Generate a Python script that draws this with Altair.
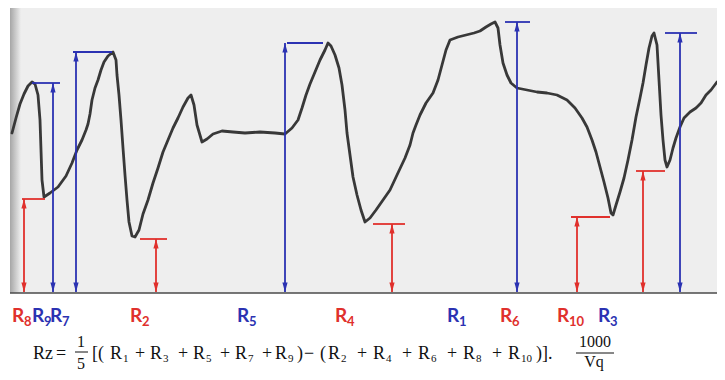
import altair as alt
import pandas as pd

# ---- profile trace (x, y in picture pixels, y downward) ----
profile_x = [12, 16, 20, 24, 28, 32, 35, 38, 40, 41, 42, 44, 50, 58, 66, 72, 77, 82, 86, 88,
             90, 92, 95, 98, 101, 104, 108, 113, 116, 117, 119, 121, 123, 125, 127, 129, 132, 135, 139, 143,
             148, 153, 158, 163, 168, 173, 178, 183, 188, 191, 194, 197, 202, 207, 213, 222, 233, 245, 260, 275,
             285, 292, 298, 302, 306, 310, 315, 320, 325, 328, 331, 335, 339, 342, 345, 347, 350, 353, 357, 361,
             365, 370, 376, 383, 390, 397, 405, 410, 413, 416, 420, 426, 433, 438, 442, 446, 450, 458, 466, 474,
             480, 486, 491, 495, 498, 500, 503, 507, 511, 517, 527, 537, 547, 557, 567, 575, 582, 587, 592, 596,
             600, 604, 608, 611, 613, 616, 620, 624, 628, 632, 636, 640, 643, 646, 649, 652, 654, 657, 659, 661,
             663, 665, 667, 670, 673, 676, 680, 684, 690, 696, 701, 706, 711, 717]
profile_y = [133, 118, 104, 94, 86, 82, 84, 95, 120, 150, 180, 197, 193, 187, 176, 163, 150, 140, 130, 124,
             114, 100, 88, 80, 70, 62, 56, 52, 60, 75, 95, 120, 148, 175, 200, 222, 236, 237, 230, 214,
             200, 183, 168, 152, 140, 128, 118, 107, 98, 95, 105, 125, 142, 139, 134, 131, 132, 133, 132, 133,
             134, 128, 120, 108, 95, 84, 72, 60, 50, 43, 46, 55, 68, 85, 110, 133, 155, 177, 195, 210,
             222, 218, 210, 200, 190, 175, 158, 145, 133, 125, 115, 103, 93, 80, 65, 50, 40, 37, 35, 33,
             31, 27, 24, 22, 28, 45, 63, 75, 83, 88, 90, 92, 93, 95, 100, 108, 118, 127, 140, 152,
             167, 182, 198, 213, 215, 205, 192, 178, 160, 140, 117, 98, 83, 65, 48, 36, 33, 45, 80, 115,
             140, 160, 167, 160, 148, 138, 127, 118, 112, 108, 103, 95, 90, 82]

# ---- arrows ----
arrow_x = [24, 53, 76, 156, 285, 392, 517, 577, 643, 680]
arrow_top = [199, 83, 52, 239, 43, 224, 22, 217, 171, 33]
cap_x1 = [22, 32, 73, 140, 287, 373, 505, 571, 636, 665]
cap_x2 = [45, 60, 112, 167, 323, 405, 530, 610, 665, 697]
arrow_kind = ["red", "blue", "blue", "red", "blue", "red", "blue", "red", "red", "blue"]
baseline_y = 292

# ---- labels under the profile ----
label_sub = ["8", "9", "7", "2", "5", "4", "1", "6", "10", "3"]
label_x = [12, 32, 50, 130, 237, 335, 447, 500, 557, 598]
label_kind = ["red", "blue", "blue", "red", "blue", "red", "blue", "red", "red", "blue"]
label_y = 322

# ---- formula ----
main_tokens = ["Rz", "=", "[(", "R", "+", "R", "+", "R", "+", "R", "+", "R", ")", "−", "(",
               "R", "+", "R", "+", "R", "+", "R", "+", "R", ")]."]
main_x = [33, 56, 92, 110, 135, 150, 178, 193, 220, 235, 262, 275, 297, 304, 320,
          328, 357, 373, 402, 418, 447, 463, 492, 508, 536]
main_y = 359
sub_tokens = ["1", "3", "5", "7", "9", "2", "4", "6", "8", "10"]
sub_x = [123, 163, 206, 248, 288, 341, 386, 431, 476, 521]
sub_y = 362
frac_text = ["1", "5", "1000", "Vq"]
frac_x = [81, 81, 595, 594]
frac_y = [347, 369, 347, 367]
bar_x1 = [75, 576]
bar_x2 = [88, 614]
bar_y = [352, 353]

# ---- paper ----
paper_x1, paper_x2, paper_y1, paper_y2 = 10, 725, 0, 293
edge_x1, edge_x2 = 10, 21

RED = "#e0302c"
BLUE = "#2b32b2"
LRED = "#e43a3a"
LBLUE = "#2238b0"
INK = "#111111"

xs = alt.Scale(domain=[8, 717], nice=False, zero=False)
ys = alt.Scale(domain=[8, 372], nice=False, zero=False, reverse=True)


def X(f):
    return alt.X(f, type="quantitative", scale=xs, axis=None)


def Y(f):
    return alt.Y(f, type="quantitative", scale=ys, axis=None)


paper_df = pd.DataFrame({"x1": [paper_x1], "x2": [paper_x2], "y1": [paper_y1], "y2": [paper_y2]})
paper = alt.Chart(paper_df).mark_rect(color="#eeeeee").encode(
    x=X("x1"), x2="x2", y=Y("y1"), y2="y2")

edge_df = pd.DataFrame({"x1": [edge_x1], "x2": [edge_x2], "y1": [paper_y1], "y2": [paper_y2]})
edge = alt.Chart(edge_df).mark_rect(
    color=alt.Gradient(gradient="linear",
                       stops=[alt.GradientStop(color="#a6a6a6", offset=0),
                              alt.GradientStop(color="#eeeeee", offset=1)],
                       x1=0, x2=1, y1=0, y2=0)
).encode(x=X("x1"), x2="x2", y=Y("y1"), y2="y2")

base_df = pd.DataFrame({"x1": [paper_x1], "x2": [paper_x2], "y": [baseline_y + 1]})
baseline = alt.Chart(base_df).mark_rule(color="#4a4a4a", strokeWidth=1.6).encode(
    x=X("x1"), x2="x2", y=Y("y"))

prof_df = pd.DataFrame({"x": profile_x, "y": profile_y, "o": list(range(len(profile_x)))})
profile = alt.Chart(prof_df).mark_line(color="#383838", strokeWidth=2.8, strokeJoin="round",
                                       strokeCap="round").encode(
    x=X("x"), y=Y("y"), order="o")

arr_df = pd.DataFrame({"x": arrow_x, "top": arrow_top, "c1": cap_x1, "c2": cap_x2,
                       "kind": arrow_kind, "base": [baseline_y] * len(arrow_x)})
col = alt.Color("kind:N", scale=alt.Scale(domain=["red", "blue"], range=[RED, BLUE]), legend=None)

shafts = alt.Chart(arr_df).mark_rule(strokeWidth=1.8).encode(
    x=X("x"), y=Y("top"), y2="base", color=col)
caps = alt.Chart(arr_df).mark_rule(strokeWidth=1.8).encode(
    x=X("c1"), x2="c2", y=Y("top"), color=col)
up_head = alt.Chart(arr_df).mark_point(shape="M-0.55,1L0,-1L0.55,1Z", filled=True, opacity=1,
                                       size=90, yOffset=4.7).encode(
    x=X("x"), y=Y("top"), color=col)
down_head = alt.Chart(arr_df).mark_point(shape="M-0.55,-1L0,1L0.55,-1Z", filled=True, opacity=1,
                                         size=90, yOffset=-4.7).encode(
    x=X("x"), y=Y("base"), color=col)

lab_df = pd.DataFrame({"x": label_x, "sub": label_sub, "kind": label_kind,
                       "R": ["R"] * len(label_x), "y": [label_y] * len(label_x)})
lcol = alt.Color("kind:N", scale=alt.Scale(domain=["red", "blue"], range=[LRED, LBLUE]), legend=None)
lab_R = alt.Chart(lab_df).mark_text(font="Lato", fontWeight="bold", fontSize=19, align="left",
                                    baseline="alphabetic").encode(
    x=X("x"), y=Y("y"), text="R:N", color=lcol)
lab_sub = alt.Chart(lab_df).mark_text(font="Lato", fontWeight="bold", fontSize=13, align="left",
                                      baseline="alphabetic", dx=12, dy=4).encode(
    x=X("x"), y=Y("y"), text="sub:N", color=lcol)

main_df = pd.DataFrame({"t": main_tokens, "x": main_x, "y": [main_y] * len(main_x)})
f_main = alt.Chart(main_df).mark_text(font="Liberation Serif", fontSize=18, align="left",
                                      baseline="alphabetic", color=INK).encode(
    x=X("x"), y=Y("y"), text="t:N")
sub_df = pd.DataFrame({"t": sub_tokens, "x": sub_x, "y": [sub_y] * len(sub_x)})
f_sub = alt.Chart(sub_df).mark_text(font="Liberation Serif", fontSize=11, align="left",
                                    baseline="alphabetic", color=INK).encode(
    x=X("x"), y=Y("y"), text="t:N")
frac_df = pd.DataFrame({"t": frac_text, "x": frac_x, "y": frac_y})
f_frac = alt.Chart(frac_df).mark_text(font="Liberation Serif", fontSize=16, align="center",
                                      baseline="alphabetic", color=INK).encode(
    x=X("x"), y=Y("y"), text="t:N")
bars_df = pd.DataFrame({"x1": bar_x1, "x2": bar_x2, "y": bar_y})
f_bars = alt.Chart(bars_df).mark_rule(color=INK, strokeWidth=1).encode(
    x=X("x1"), x2="x2", y=Y("y"))

chart = alt.layer(paper, edge, baseline, profile, shafts, caps, up_head, down_head,
                  lab_R, lab_sub, f_main, f_sub, f_frac, f_bars).properties(
    width=709, height=364, padding=0, autosize="none", background="white"
).configure_view(stroke=None)

chart.save("out.html", embed_options={"renderer": "svg", "actions": False})
